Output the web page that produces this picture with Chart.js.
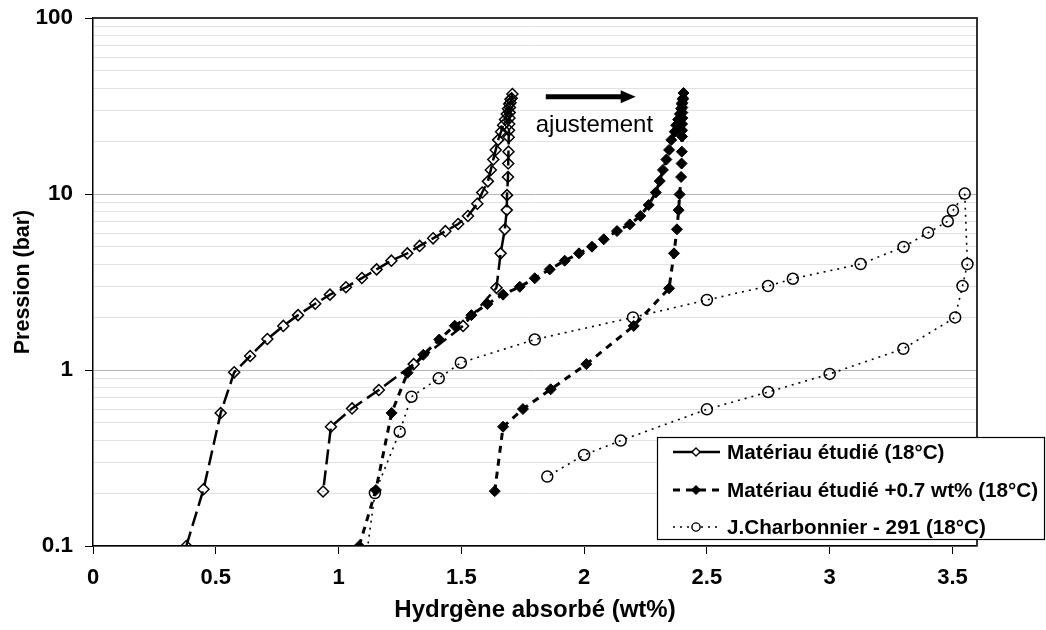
<!DOCTYPE html>
<html>
<head>
<meta charset="utf-8">
<script src="https://cdn.jsdelivr.net/npm/chart.js@4.4.1/dist/chart.umd.min.js"></script>
<style>
  html, body { margin: 0; padding: 0; background: #fff; }
  #wrap { width: 1046px; height: 630px; }
</style>
</head>
<body>
<div id="wrap"><canvas id="isotherm"></canvas></div>
<script>
// Matériau étudié (18°C): absorption then desorption
const mat1X = [0.38, 0.45, 0.52, 0.575, 0.64, 0.71, 0.775, 0.835, 0.905, 0.965, 1.03, 1.095, 1.155, 1.215,
    1.28, 1.33, 1.385, 1.435, 1.487, 1.527, 1.565, 1.585, 1.608, 1.62, 1.63, 1.64, 1.65, 1.662, 1.67,
    1.678, 1.685, 1.69, 1.695, 1.70, 1.708,
    1.705, 1.70, 1.698, 1.697, 1.696, 1.695, 1.694, 1.693, 1.692, 1.691, 1.69, 1.686, 1.685, 1.677,
    1.66, 1.643, 1.507, 1.306, 1.164, 1.055, 0.969, 0.937];
const mat1Y = [0.10, 0.21, 0.57, 0.97, 1.2, 1.5, 1.78, 2.05, 2.38, 2.68, 2.95, 3.33, 3.73, 4.18,
    4.6, 5.07, 5.6, 6.15, 6.75, 7.5, 8.8, 10.2, 11.8, 13.7, 15.7, 17.8, 20.3, 22.6, 24.6,
    26.5, 28.5, 30.5, 32.5, 34.5, 37,
    35, 33, 31, 29, 27, 25, 23, 21, 17.4, 14.9, 12.5, 9.85, 8.1, 6.3,
    4.6, 2.93, 1.78, 1.08, 0.77, 0.605, 0.476, 0.204];

// Matériau étudié +0.7 wt% (18°C)
const mat2X = [1.084, 1.152, 1.216, 1.281, 1.345, 1.41, 1.473, 1.541, 1.606, 1.67, 1.738, 1.799, 1.86, 1.921,
    1.979, 2.032, 2.08, 2.134, 2.186, 2.229, 2.263, 2.292, 2.308, 2.321, 2.335, 2.346, 2.355, 2.369, 2.375,
    2.383, 2.39, 2.395, 2.398, 2.402, 2.405,
    2.403, 2.40, 2.40, 2.40, 2.40, 2.399, 2.399, 2.399, 2.398, 2.397, 2.395, 2.389, 2.385, 2.378,
    2.366, 2.346, 2.202, 2.009, 1.864, 1.751, 1.67, 1.636];
const mat2Y = [0.10, 0.208, 0.57, 0.965, 1.22, 1.49, 1.785, 2.05, 2.37, 2.68, 2.97, 3.32, 3.73, 4.18,
    4.6, 5.02, 5.53, 6.16, 6.72, 7.5, 8.66, 10.2, 11.85, 13.7, 15.7, 17.8, 20.3, 22.6, 24.6,
    26.5, 28.5, 30.5, 32.5, 34.5, 37.5,
    35, 33, 31, 29, 27, 25, 23, 21.2, 17.4, 14.9, 12.5, 9.95, 8.1, 6.3,
    4.6, 2.91, 1.78, 1.08, 0.777, 0.60, 0.476, 0.205];

// J.Charbonnier - 291 (18°C)
const charbX = [1.09, 1.148, 1.249, 1.297, 1.408, 1.498, 1.799, 2.199, 2.5, 2.749, 2.85, 3.126, 3.301, 3.401,
    3.481, 3.502, 3.55, 3.561, 3.541, 3.511, 3.30, 3.0, 2.75, 2.5, 2.149, 2.0, 1.85];
const charbY = [0.05, 0.2, 0.446, 0.705, 0.897, 1.10, 1.49, 1.99, 2.5, 3.0, 3.3, 4.0, 5.0, 6.03,
    7.0, 8.05, 10.05, 4.0, 3.0, 1.99, 1.32, 0.95, 0.75, 0.598, 0.397, 0.329, 0.248];

const seriesNames = ['Matériau étudié (18°C)', 'Matériau étudié +0.7 wt% (18°C)', 'J.Charbonnier - 291 (18°C)'];

const xTicks = [0, 0.5, 1, 1.5, 2, 2.5, 3, 3.5];
const yLabels = [0.1, 1, 10, 100];
const yGrid = [0.1, 0.2, 0.3, 0.4, 0.5, 0.6, 0.7, 0.8, 0.9,
    1, 2, 3, 4, 5, 6, 7, 8, 9,
    10, 20, 30, 40, 50, 60, 70, 80, 90, 100];

const FONT = 'Arial, "Liberation Sans", sans-serif';

function toPoints(xs, ys) {
    return xs.map((x, i) => ({ x: x, y: ys[i] }));
}

const datasets = [
    {
        label: seriesNames[0],
        data: toPoints(mat1X, mat1Y),
        borderColor: '#000',
        borderWidth: 2.5,
        borderDash: [15, 6],
        pointStyle: 'rectRot',
        pointRadius: 5.5,
        pointBackgroundColor: 'rgba(0,0,0,0)',
        pointBorderColor: '#000',
        pointBorderWidth: 1.5
    },
    {
        label: seriesNames[1],
        data: toPoints(mat2X, mat2Y),
        borderColor: '#000',
        borderWidth: 3,
        borderDash: [7, 6],
        pointStyle: 'rectRot',
        pointRadius: 5.5,
        pointBackgroundColor: '#000',
        pointBorderColor: '#000',
        pointBorderWidth: 1
    },
    {
        label: seriesNames[2],
        data: toPoints(charbX, charbY),
        borderColor: '#000',
        borderWidth: 1.6,
        borderDash: [2, 5],
        pointStyle: 'circle',
        pointRadius: 5.5,
        pointBackgroundColor: 'rgba(0,0,0,0)',
        pointBorderColor: '#000',
        pointBorderWidth: 1.5
    }
];

// top/right frame, arrow + "ajustement", boxed legend
const extras = {
    id: 'extras',
    afterDatasetsDraw(chart) {
        const { ctx, chartArea: a } = chart;
        ctx.save();
        ctx.strokeStyle = '#333';
        ctx.lineWidth = 2;
        ctx.beginPath();
        ctx.moveTo(a.left, a.top);
        ctx.lineTo(a.right, a.top);
        ctx.lineTo(a.right, a.bottom);
        ctx.stroke();
        ctx.restore();
    },
    afterDraw(chart) {
        const ctx = chart.ctx;
        const xs = chart.scales.x, ys = chart.scales.y;
        ctx.save();

        // arrow
        const ax0 = xs.getPixelForValue(1.844), ax1 = xs.getPixelForValue(2.21);
        const ay = ys.getPixelForValue(35.7);
        ctx.strokeStyle = '#000';
        ctx.fillStyle = '#000';
        ctx.lineWidth = 5;
        ctx.setLineDash([]);
        ctx.beginPath();
        ctx.moveTo(ax0, ay);
        ctx.lineTo(ax1 - 12, ay);
        ctx.stroke();
        ctx.beginPath();
        ctx.moveTo(ax1, ay);
        ctx.lineTo(ax1 - 15, ay - 6.5);
        ctx.lineTo(ax1 - 15, ay + 6.5);
        ctx.closePath();
        ctx.fill();

        ctx.font = '24px ' + FONT;
        ctx.textBaseline = 'alphabetic';
        ctx.textAlign = 'left';
        ctx.fillText('ajustement', xs.getPixelForValue(1.803), ys.getPixelForValue(22.6));

        // legend box
        const lx = 657.5, ly = 437.5, lw = 387, lh = 102;
        ctx.fillStyle = '#fff';
        ctx.fillRect(lx, ly, lw, lh);
        ctx.strokeStyle = '#000';
        ctx.lineWidth = 1.2;
        ctx.strokeRect(lx, ly, lw, lh);

        const rows = [452, 490, 527];
        chart.data.datasets.forEach((ds, i) => {
            const y = rows[i];
            ctx.strokeStyle = '#000';
            ctx.lineWidth = ds.borderWidth;
            ctx.setLineDash(i === 0 ? [] : ds.borderDash);
            ctx.beginPath();
            ctx.moveTo(673, y);
            ctx.lineTo(720, y);
            ctx.stroke();
            ctx.setLineDash([]);
            ctx.lineWidth = 1.2;
            Chart.helpers.drawPoint(ctx, {
                pointStyle: ds.pointStyle,
                radius: 4,
                rotation: 0,
                borderWidth: 1.2
            }, 696, y);
            ctx.fillStyle = i === 1 ? '#000' : '#fff';
            ctx.fill();
            ctx.stroke();

            ctx.fillStyle = '#000';
            ctx.font = 'bold 20.7px ' + FONT;
            ctx.textBaseline = 'middle';
            ctx.fillText(ds.label, 727, y + 1);
        });
        ctx.restore();
    }
};

new Chart(document.getElementById('isotherm'), {
    type: 'scatter',
    data: { datasets: datasets },
    options: {
        responsive: true,
        maintainAspectRatio: false,
        animation: false,
        showLine: true,
        layout: { padding: { top: 18, right: 69, left: 0, bottom: 0 } },
        plugins: {
            legend: { display: false },
            tooltip: { enabled: false }
        },
        scales: {
            x: {
                type: 'linear',
                min: 0,
                max: 3.6,
                afterBuildTicks: (s) => { s.ticks = xTicks.map(v => ({ value: v })); },
                afterFit: (s) => { s.height = 84; s.paddingLeft = 0; s.paddingRight = 0; },
                grid: { drawOnChartArea: false, tickLength: 8, color: '#000', tickWidth: 1 },
                border: { color: '#000', width: 1.5 },
                ticks: {
                    color: '#000',
                    padding: 11,
                    maxRotation: 0,
                    autoSkip: false,
                    font: { family: FONT, size: 22, weight: 'bold' },
                    callback: (v) => String(v)
                },
                title: {
                    display: true,
                    text: 'Hydrgène absorbé (wt%)',
                    color: '#000',
                    padding: { top: 0, bottom: 5 },
                    font: { family: FONT, size: 24, weight: 'bold' }
                }
            },
            y: {
                type: 'logarithmic',
                min: 0.1,
                max: 100,
                afterBuildTicks: (s) => { s.ticks = yGrid.map(v => ({ value: v })); },
                afterFit: (s) => { s.width = 93; s.paddingTop = 0; s.paddingBottom = 0; },
                grid: {
                    tickLength: 8,
                    color: (c) => yLabels.includes(c.tick.value) ? '#b4b4b4' : '#e2e2e2',
                    tickColor: (c) => yLabels.includes(c.tick.value) ? '#000' : 'rgba(0,0,0,0)',
                    lineWidth: 1
                },
                border: { color: '#000', width: 1.5 },
                ticks: {
                    color: '#000',
                    padding: 12,
                    autoSkip: false,
                    font: { family: FONT, size: 22.5, weight: 'bold' },
                    callback: (v) => yLabels.includes(v) ? String(v) : ''
                },
                title: {
                    display: true,
                    text: 'Pression (bar)',
                    color: '#000',
                    padding: { top: 10, bottom: 0 },
                    font: { family: FONT, size: 21.5, weight: 'bold' }
                }
            }
        }
    },
    plugins: [extras]
});
</script>
</body>
</html>
